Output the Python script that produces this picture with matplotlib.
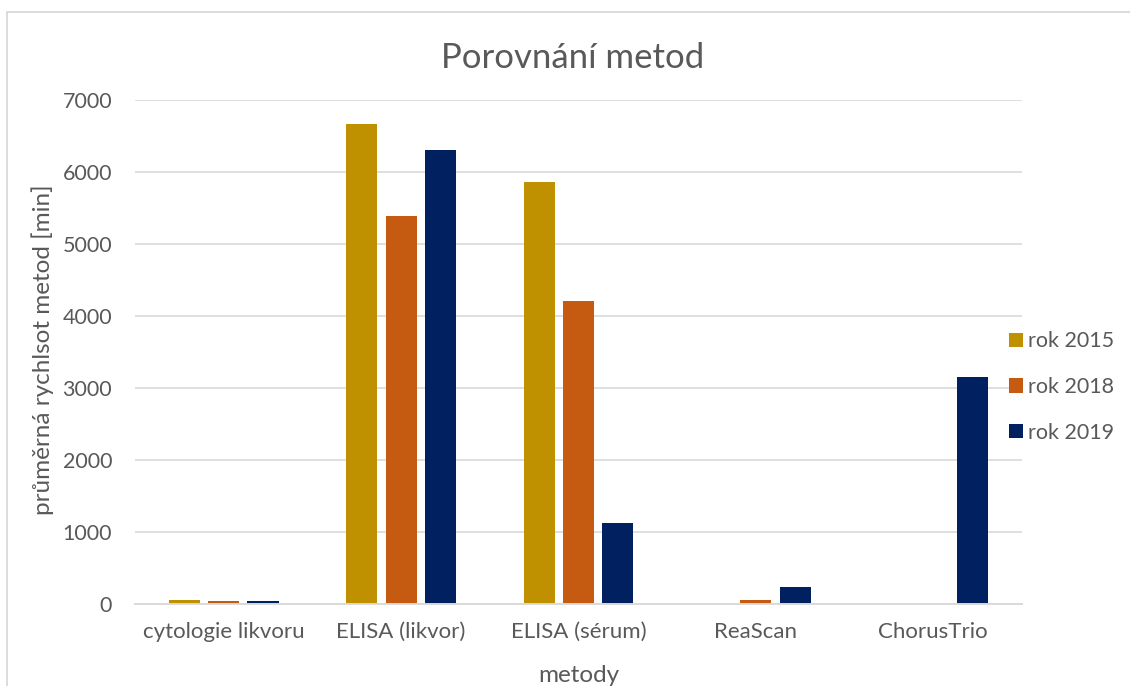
import numpy as np
import matplotlib
matplotlib.use("Agg")
import matplotlib.pyplot as plt
from matplotlib.patches import Rectangle

OUT_FILE = "out.png"

categories = ["cytologie likvoru", "ELISA (likvor)", "ELISA (sérum)", "ReaScan", "ChorusTrio"]
series_names = ["rok 2015", "rok 2018", "rok 2019"]
rok_2015 = [56, 6660, 5860, 0, 0]
rok_2018 = [32, 5390, 4200, 46, 0]
rok_2019 = [42, 6310, 1120, 232, 3150]
y_ticks = [0, 1000, 2000, 3000, 4000, 5000, 6000, 7000]

COLORS = ["#BF9000", "#C55A11", "#002060"]
TEXT = "#595959"
GRID = "#D9D9D9"


def main():
    plt.rcParams["font.family"] = ["Lato", "DejaVu Sans"]

    fig = plt.figure(figsize=(11.3, 6.86), dpi=100)
    ax = fig.add_axes([135 / 1130, 1 - 603.7 / 686, 887 / 1130, 503.7 / 686])

    x = np.arange(len(categories))
    step = 0.2215
    width = 0.175
    for i, (name, vals) in enumerate(zip(series_names, [rok_2015, rok_2018, rok_2019])):
        ax.bar(x + (i - 1) * step, vals, width=width, color=COLORS[i],
               label=name, zorder=3)

    ax.set_xlim(-0.5, len(categories) - 0.5)
    ax.set_ylim(0, 7000)
    ax.set_yticks(y_ticks)
    ax.set_xticks(x)
    ax.set_xticklabels(categories)

    ax.tick_params(axis="both", length=0, colors=TEXT)
    ax.tick_params(axis="y", pad=16.5, labelsize=15.5)
    ax.tick_params(axis="x", pad=13, labelsize=16)

    ax.grid(axis="y", color=GRID, linewidth=1.2, zorder=0)
    for side in ["left", "right", "top"]:
        ax.spines[side].set_visible(False)
    ax.spines["bottom"].set_color(GRID)
    ax.spines["bottom"].set_linewidth(1.4)
    ax.spines["bottom"].set_zorder(4)

    ax.set_xlabel("metody", fontsize=17.5, color=TEXT)
    ax.set_ylabel("průměrná rychlsot metod [min]", fontsize=17.5, color=TEXT)
    ax.xaxis.set_label_coords(0.5, -0.121)
    ax.yaxis.set_label_coords(-0.0913, 0.5037)

    fig.text(572.5 / 1130, 1 - 58 / 686, "Porovnání metod", fontsize=25, color=TEXT,
             ha="center", va="center")

    leg = ax.legend(loc="center left", bbox_to_anchor=(1000.5 / 1130, 1 - 387 / 686),
                    bbox_transform=fig.transFigure, frameon=False,
                    fontsize=15.5, handlelength=0.65, handleheight=0.65,
                    handletextpad=0.23, labelspacing=1.19, borderaxespad=0)
    for t in leg.get_texts():
        t.set_color(TEXT)

    fig.patches.append(Rectangle((6.5 / 1130, -0.5), 1.5, 0.9825 + 0.5,
                                 transform=fig.transFigure, fill=False,
                                 edgecolor=GRID, linewidth=1.3))

    fig.savefig(OUT_FILE, dpi=100)


if __name__ == "__main__":
    main()
